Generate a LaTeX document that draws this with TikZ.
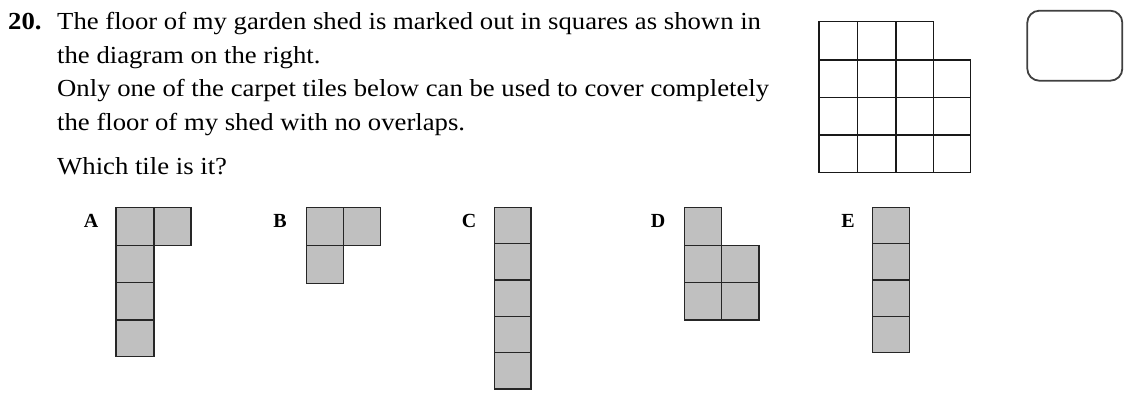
\documentclass[tikz,border=0pt]{standalone}
\usepackage{fontspec}
\setmainfont{Liberation Serif}
\definecolor{tilegray}{RGB}{192,192,192}
\newcommand{\stretchtxt}[1]{\scalebox{1.09}[1]{#1}}
\begin{document}
\begin{tikzpicture}[x=1pt,y=-1pt,
  txt/.style={anchor=base west, inner sep=0pt, font=\fontsize{24.5}{29}\selectfont},
  lbl/.style={anchor=base, inner sep=0pt, font=\fontsize{20}{24}\selectfont\bfseries},
  cell/.style={fill=tilegray, draw=black!85, line width=1.4pt},
  gcell/.style={draw=black!90, line width=1.4pt},
  answerbox/.style={draw=black!75, line width=1.8pt, rounded corners=12pt}]
\useasboundingbox (0,0) rectangle (1124,399);

% question text
\node[txt] (num) at (8,29) {\stretchtxt{\bfseries 20.}};
\node[txt] (l1) at (57,29) {\stretchtxt{The floor of my garden shed is marked out in squares as shown in}};
\node[txt] (l2) at (57,63) {\stretchtxt{the diagram on the right.}};
\node[txt] (l3) at (57,96) {\stretchtxt{Only one of the carpet tiles below can be used to cover completely}};
\node[txt] (l4) at (57,130) {\stretchtxt{the floor of my shed with no overlaps.}};
\node[txt] (l5) at (57,174) {\stretchtxt{Which tile is it?}};

% shed floor grid
\foreach \x/\xx in {819/857.7, 857.7/896, 896/933.3} {
  \draw[gcell] (\x,21.7) rectangle (\xx,60);
}
\foreach \y/\yy in {60/97.3, 97.3/135, 135/172.3} {
  \foreach \x/\xx in {819/857.7, 857.7/896, 896/933.3, 933.3/970.7} {
    \draw[gcell] (\x,\y) rectangle (\xx,\yy);
  }
}

% answer box
\draw[answerbox] (1027.3,10.7) rectangle (1122.3,80.7);

% labels
\node[lbl] (la) at (91,227) {A};
\node[lbl] (lb) at (280,227) {B};
\node[lbl] (lc) at (469,227) {C};
\node[lbl] (ld) at (658,227) {D};
\node[lbl] (le) at (848,227) {E};

% tile A
\draw[cell] (116,207.7) rectangle (154,245.7);
\draw[cell] (154,207.7) rectangle (191,245.7);
\draw[cell] (116,245.7) rectangle (154,282.7);
\draw[cell] (116,282.7) rectangle (154,320);
\draw[cell] (116,320) rectangle (154,356.7);

% tile B
\draw[cell] (306.7,207.7) rectangle (343.3,245.7);
\draw[cell] (343.3,207.7) rectangle (380.7,245.7);
\draw[cell] (306.7,245.7) rectangle (343.3,283.3);

% tile C
\foreach \y/\yy in {207.7/243.7, 243.7/280, 280/316.3, 316.3/352.6, 352.6/389} {
  \draw[cell] (494.3,\y) rectangle (531,\yy);
}

% tile D
\draw[cell] (684.3,207.7) rectangle (721.7,245.7);
\draw[cell] (684.3,245.7) rectangle (721.7,282.3);
\draw[cell] (721.7,245.7) rectangle (759,282.3);
\draw[cell] (684.3,282.3) rectangle (721.7,320);
\draw[cell] (721.7,282.3) rectangle (759,320);

% tile E
\foreach \y/\yy in {207.7/243.7, 243.7/280, 280/316.3, 316.3/352.3} {
  \draw[cell] (872.7,\y) rectangle (909.3,\yy);
}
\end{tikzpicture}
\end{document}
